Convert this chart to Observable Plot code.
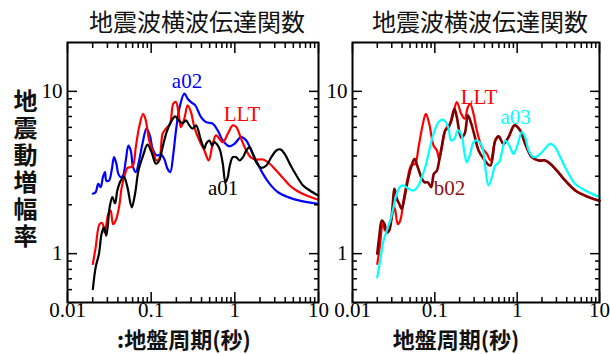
<!DOCTYPE html>
<html><head><meta charset="utf-8">
<script src="https://cdn.jsdelivr.net/npm/d3@7"></script>
<script src="https://cdn.jsdelivr.net/npm/@observablehq/plot@0.6"></script>
<style>
body{margin:0;background:#fff;}
#wrap{display:flex;width:610px;height:354px;overflow:hidden;}
#wrap svg{display:block;overflow:visible;background:transparent;}
</style></head><body><div id="wrap"></div>
<script>
// ---- tick values ----
const xTicksMajor = [0.01, 0.1, 1, 10];
const xTicksMinor = [0.02,0.03,0.04,0.05,0.06,0.07,0.08,0.09,0.2,0.3,0.4,0.5,0.6,0.7,0.8,0.9,2,3,4,5,6,7,8,9];
const yTicksMajor = [1, 10];
const yTicksMinor = [0.6,0.7,0.8,0.9,2,3,4,5,6,7,8,9];

// ---- left panel series: [period (s), amplification] ----
const leftA01 = [[0.0201,0.605],[0.0217,0.823],[0.0238,1.0],[0.0256,1.33],[0.0273,1.45],[0.0291,1.29],[0.0319,1.93],[0.0344,2.23],[0.0370,2.04],[0.0394,2.45],[0.0433,2.82],[0.0474,2.96],[0.0520,2.57],[0.0586,1.93],[0.0643,2.35],[0.0705,3.25],[0.0802,4.03],[0.0903,4.69],[0.101,4.22],[0.114,3.58],[0.125,3.75],[0.137,4.53],[0.153,5.61],[0.172,6.46],[0.194,7.01],[0.213,6.62],[0.238,6.37],[0.261,6.62],[0.286,6.17],[0.313,5.89],[0.344,6.17],[0.394,4.98],[0.433,4.43],[0.453,4.75],[0.497,4.98],[0.535,4.64],[0.570,4.86],[0.625,4.64],[0.667,4.32],[0.718,3.58],[0.773,2.75],[0.824,2.96],[0.863,3.41],[0.946,3.93],[1.04,3.93],[1.14,3.75],[1.25,3.93],[1.37,4.32],[1.50,4.53],[1.64,4.12],[1.80,3.66],[2.07,3.38],[2.38,3.49],[2.73,3.93],[3.13,4.32],[3.50,4.39],[3.94,4.12],[4.53,3.58],[5.45,3.03],[6.55,2.63],[7.87,2.45],[9.91,2.28]];
const leftLLT = [[0.0201,0.864],[0.0217,1.09],[0.0242,1.52],[0.0261,1.54],[0.0278,1.35],[0.0308,1.76],[0.0328,1.84],[0.0350,1.52],[0.0377,1.60],[0.0413,1.93],[0.0445,2.57],[0.0488,3.10],[0.0520,3.38],[0.0597,3.44],[0.0655,4.53],[0.0718,6.02],[0.0802,7.28],[0.0863,6.62],[0.0946,4.98],[0.104,4.32],[0.116,3.75],[0.125,3.84],[0.137,5.48],[0.150,5.89],[0.168,6.32],[0.184,8.39],[0.198,8.59],[0.213,7.28],[0.227,6.02],[0.249,6.78],[0.273,8.20],[0.299,7.45],[0.328,6.02],[0.377,4.98],[0.433,4.32],[0.488,3.75],[0.544,4.75],[0.597,5.35],[0.655,5.10],[0.718,4.86],[0.824,5.48],[0.946,6.17],[1.04,6.02],[1.19,5.10],[1.37,4.32],[1.57,3.90],[1.80,3.80],[2.17,3.80],[2.61,3.58],[3.13,3.25],[3.77,2.92],[4.53,2.63],[5.45,2.45],[7.18,2.28],[9.91,2.15]];
const leftA02 = [[0.0201,2.34],[0.0217,2.39],[0.0233,2.69],[0.0249,2.57],[0.0265,2.96],[0.0281,3.18],[0.0291,2.82],[0.0313,2.82],[0.0337,3.25],[0.0360,3.93],[0.0384,3.58],[0.0405,3.10],[0.0433,2.96],[0.0461,3.03],[0.0497,3.75],[0.0535,4.64],[0.0570,4.32],[0.0608,3.41],[0.0655,3.18],[0.0718,3.75],[0.0787,4.75],[0.0879,5.89],[0.0964,5.35],[0.104,4.43],[0.116,4.03],[0.131,4.08],[0.143,3.84],[0.157,3.33],[0.169,3.18],[0.184,4.12],[0.198,5.74],[0.217,7.82],[0.249,9.68],[0.273,9.01],[0.299,8.59],[0.337,8.20],[0.394,6.94],[0.453,6.46],[0.544,6.32],[0.625,5.74],[0.718,4.98],[0.863,4.58],[0.991,4.75],[1.19,5.22],[1.37,4.98],[1.57,4.32],[1.80,3.75],[2.17,3.10],[2.61,2.69],[3.28,2.39],[4.33,2.23],[5.97,2.12],[9.91,2.03]];

// ---- right panel series ----
const rightLLT = [[0.0200,0.864],[0.0217,1.15],[0.0232,1.52],[0.0249,1.39],[0.0269,1.35],[0.0295,1.60],[0.0324,1.93],[0.0355,1.52],[0.0380,1.60],[0.0417,2.12],[0.0470,2.96],[0.0516,3.49],[0.0578,3.58],[0.0634,4.53],[0.0710,6.17],[0.0778,7.28],[0.0855,6.32],[0.0964,4.64],[0.106,4.32],[0.113,3.84],[0.122,4.53],[0.136,5.89],[0.154,6.32],[0.169,7.45],[0.185,8.59],[0.209,7.28],[0.230,6.78],[0.252,8.00],[0.269,8.39],[0.295,7.28],[0.324,5.74],[0.372,4.53],[0.429,4.12],[0.475,3.75],[0.542,4.98],[0.594,5.28],[0.684,4.75],[0.785,5.22],[0.929,6.17],[1.09,5.74],[1.25,4.75],[1.51,3.93],[1.82,3.75],[2.19,3.75],[2.52,3.58],[3.03,3.25],[3.84,2.82],[5.08,2.45],[7.38,2.23],[10,2.12]];
const rightB02 = [[0.0200,1.0],[0.0211,1.26],[0.0227,1.60],[0.0245,1.52],[0.0261,1.35],[0.0279,1.39],[0.0301,1.76],[0.0324,2.51],[0.0345,2.18],[0.0369,2.03],[0.0397,1.89],[0.0429,2.23],[0.0470,2.82],[0.0516,3.41],[0.0566,3.84],[0.0621,3.41],[0.0684,2.96],[0.0750,2.75],[0.0822,2.75],[0.0903,2.57],[0.0973,3.10],[0.106,3.25],[0.113,3.75],[0.122,4.64],[0.134,5.74],[0.147,6.02],[0.158,6.62],[0.173,7.82],[0.185,6.94],[0.209,5.20],[0.230,5.48],[0.252,7.11],[0.277,6.32],[0.303,5.35],[0.340,4.32],[0.391,3.84],[0.471,3.49],[0.542,4.98],[0.594,5.28],[0.684,4.75],[0.785,5.22],[0.929,6.17],[1.09,5.74],[1.25,4.75],[1.51,3.93],[1.82,3.75],[2.19,3.75],[2.52,3.58],[3.03,3.25],[3.84,2.82],[5.08,2.45],[7.38,2.23],[10,2.12]];
const rightA03 = [[0.0200,0.714],[0.0217,0.905],[0.0238,1.20],[0.0261,1.39],[0.0287,1.60],[0.0315,1.93],[0.0345,2.34],[0.0380,2.59],[0.0417,2.63],[0.0478,2.51],[0.0551,2.45],[0.0634,2.63],[0.0695,2.96],[0.0764,3.41],[0.0855,4.32],[0.0964,5.48],[0.111,6.46],[0.124,6.69],[0.136,6.46],[0.147,5.89],[0.158,4.98],[0.173,5.10],[0.190,5.74],[0.209,5.48],[0.230,4.12],[0.245,3.66],[0.269,4.12],[0.295,4.86],[0.324,4.98],[0.372,4.64],[0.409,3.41],[0.449,2.63],[0.493,2.96],[0.542,3.49],[0.605,3.66],[0.652,4.22],[0.716,4.98],[0.802,4.64],[0.904,4.12],[1.02,4.75],[1.14,5.61],[1.25,5.22],[1.38,4.32],[1.58,3.93],[1.82,4.03],[2.09,4.32],[2.52,4.75],[2.90,4.53],[3.34,3.93],[4.02,3.25],[5.08,2.69],[6.72,2.45],[10,2.23]];

// ---- curve labels ----
const leftLabels = [{t:"a02", p:0.268, a:11.5, c:"#0000ff"},{t:"LLT", p:1.22, a:7.21, c:"#ff0000"},{t:"a01", p:0.724, a:2.52, c:"#000000"}];
const rightLabels = [{t:"LLT", p:0.344, a:9.18, c:"#ff0000"},{t:"a03", p:0.956, a:6.91, c:"#00ffff"},{t:"b02", p:0.151, a:2.52, c:"#8b1010"}];

const titleText = "地震波横波伝達関数";
const yLabelText = "地震動増幅率";
const xLabelLeft = ":地盤周期(秒)";
const xLabelRight = "地盤周期(秒)";

// pick the first serif family that is really installed
function pickSerif() {
  const ctx = document.createElement("canvas").getContext("2d");
  const probe = "0.01 a02 LLT b02 10";
  ctx.font = "40px monospace";
  const base = ctx.measureText(probe).width;
  ctx.font = "40px sans-serif";
  const baseSans = ctx.measureText(probe).width;
  for (const f of ["Liberation Serif", "Times New Roman", "Tinos", "DejaVu Serif", "FreeSerif", "Noto Serif", "Nimbus Roman"]) {
    ctx.font = `40px "${f}", monospace`;
    const w1 = ctx.measureText(probe).width;
    ctx.font = `40px "${f}", sans-serif`;
    const w2 = ctx.measureText(probe).width;
    if (w1 !== base || w2 !== baseSans) return `"${f}", serif`;
  }
  return "serif";
}
const serif = pickSerif();
const cjk = "'Noto Sans CJK JP', 'Noto Sans CJK SC', sans-serif";

function panel({width, marginLeft, marginRight, series, labels, xlabel, xlabelDx, ylabel}) {
  const marks = [];
  for (const s of series) {
    marks.push(Plot.line(s.data, {x: d => d[0], y: d => d[1], stroke: s.color, strokeWidth: s.width, curve: "catmull-rom"}));
  }
  for (const anchor of ["bottom", "top"]) {
    marks.push(Plot.axisX(xTicksMajor, {anchor, tickSize: -10, fill: "none", tickFormat: () => "", strokeWidth: 1.5, label: null}));
    marks.push(Plot.axisX(xTicksMinor, {anchor, tickSize: -5, fill: "none", tickFormat: () => "", strokeWidth: 1.5, label: null}));
  }
  for (const anchor of ["left", "right"]) {
    marks.push(Plot.axisY(yTicksMajor, {anchor, tickSize: -10, fill: "none", tickFormat: () => "", strokeWidth: 1.5, label: null}));
    marks.push(Plot.axisY(yTicksMinor, {anchor, tickSize: -5, fill: "none", tickFormat: () => "", strokeWidth: 1.5, label: null}));
  }
  marks.push(Plot.axisX(xTicksMajor, {anchor: "bottom", tickSize: 0, tickPadding: 0, tickFormat: d => String(d), fontSize: 21, fontFamily: serif, label: null}));
  marks.push(Plot.axisY(yTicksMajor, {anchor: "left", tickSize: 0, tickPadding: 5, tickFormat: d => String(d), fontSize: 21, fontFamily: serif, label: null}));
  for (const l of labels) {
    marks.push(Plot.text([l], {x: "p", y: "a", text: "t", fill: l.c, fontSize: 21, fontFamily: serif}));
  }
  marks.push(Plot.frame({stroke: "#000", strokeWidth: 2}));
  marks.push(Plot.text([titleText], {frameAnchor: "top", lineAnchor: "middle", textAnchor: "middle", dy: -19, dx: 4, fontSize: 24, fontFamily: cjk, fill: "#111"}));
  marks.push(Plot.text([xlabel], {frameAnchor: "bottom", lineAnchor: "middle", textAnchor: "middle", dy: 38, dx: xlabelDx, fontSize: 22, fontWeight: "bold", fontFamily: cjk, fill: "#111"}));
  if (ylabel) {
    marks.push(Plot.text([ylabel], {frameAnchor: "left", lineAnchor: "middle", textAnchor: "middle", dx: -42, dy: -10, fontSize: 24, fontWeight: "bold", fontFamily: cjk, fill: "#111"}));
  }
  const svg = Plot.plot({
    width, height: 354, marginTop: 42, marginBottom: 52, marginLeft, marginRight,
    style: {background: "transparent", overflow: "visible", color: "#000", fontFamily: serif},
    x: {type: "log", domain: [0.01, 10], label: null},
    y: {type: "log", domain: [0.5, 20], label: null},
    marks
  });
  if (ylabel) {
    // set the y label in vertical (top-to-bottom) writing, as in the reference
    d3.select(svg).selectAll("text")
      .filter(function() { return this.textContent === ylabel; })
      .attr("dy", null)
      .style("writing-mode", "vertical-rl")
      .style("letter-spacing", "3px");
  }
  return svg;
}

const wrap = document.getElementById("wrap");
wrap.appendChild(panel({
  width: 330, marginLeft: 67, marginRight: 12,
  series: [
    {data: leftA02, color: "#0000ff", width: 2.2},
    {data: leftLLT, color: "#ff0000", width: 2.2},
    {data: leftA01, color: "#000000", width: 2.2}
  ],
  labels: leftLabels, xlabel: xLabelLeft, xlabelDx: -9, ylabel: yLabelText
}));
wrap.appendChild(panel({
  width: 280, marginLeft: 22, marginRight: 11,
  series: [
    {data: rightLLT, color: "#ff0000", width: 2.2},
    {data: rightB02, color: "#800000", width: 2.6},
    {data: rightA03, color: "#00ffff", width: 2.2}
  ],
  labels: rightLabels, xlabel: xLabelRight, xlabelDx: -20, ylabel: null
}));
</script></body></html>
